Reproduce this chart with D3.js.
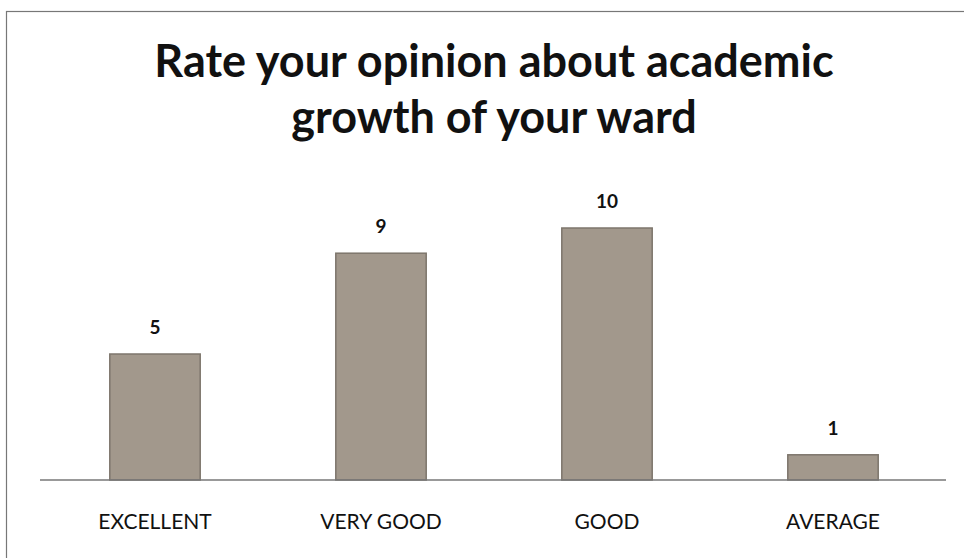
<!DOCTYPE html>
<html><head><meta charset="utf-8">
<script src="https://cdn.jsdelivr.net/npm/d3@7"></script>
<style>body{margin:0;background:#fff}svg{display:block}</style>
</head><body>
<svg id="c" width="964" height="558"></svg>
<script>
const categories = ["EXCELLENT", "VERY GOOD", "GOOD", "AVERAGE"];
const values = [5, 9, 10, 1];
const titleLines = ["Rate your opinion about academic", "growth of your ward"];

const svg = d3.select("#c");
const W = 964, H = 558;
const font = "Lato, 'Open Sans', sans-serif";

// frame
svg.append("rect").attr("x", 6.5).attr("y", 11.5).attr("width", W + 10).attr("height", H + 10)
  .attr("fill", "none").attr("stroke", "#777").attr("stroke-width", 1.2);

const x = d3.scaleBand().domain(categories).range([42, 946]).paddingInner(0.6).paddingOuter(0.3);
const y = d3.scaleLinear().domain([0, 10]).range([480, 228]);

svg.append("g").selectAll("text").data(titleLines).join("text")
  .attr("x", 494).attr("y", (d, i) => 77 + i * 56)
  .attr("text-anchor", "middle").attr("font-family", font).attr("font-weight", 700)
  .attr("font-size", 45).attr("fill", "#111").text(d => d);

svg.append("g").selectAll("rect").data(values).join("rect")
  .attr("x", (d, i) => x(categories[i])).attr("width", x.bandwidth())
  .attr("y", d => y(d)).attr("height", d => y(0) - y(d))
  .attr("fill", "#a2988c").attr("stroke", "#7d766c").attr("stroke-width", 1.5);

const axis = svg.append("g").attr("transform", `translate(0,${y(0)})`)
  .call(d3.axisBottom(x).tickSize(0).tickPadding(34));
axis.select(".domain").attr("stroke", "#777").attr("stroke-width", 1.5).attr("d", "M40,0H946");
axis.selectAll("text").attr("font-family", font).attr("font-size", 21).attr("fill", "#111");

svg.append("g").selectAll("text").data(values).join("text")
  .attr("x", (d, i) => x(categories[i]) + x.bandwidth() / 2)
  .attr("y", d => y(d) - 20)
  .attr("text-anchor", "middle").attr("font-family", font).attr("font-weight", 700)
  .attr("font-size", 19).attr("fill", "#111").text(d => d);
</script>
</body></html>
